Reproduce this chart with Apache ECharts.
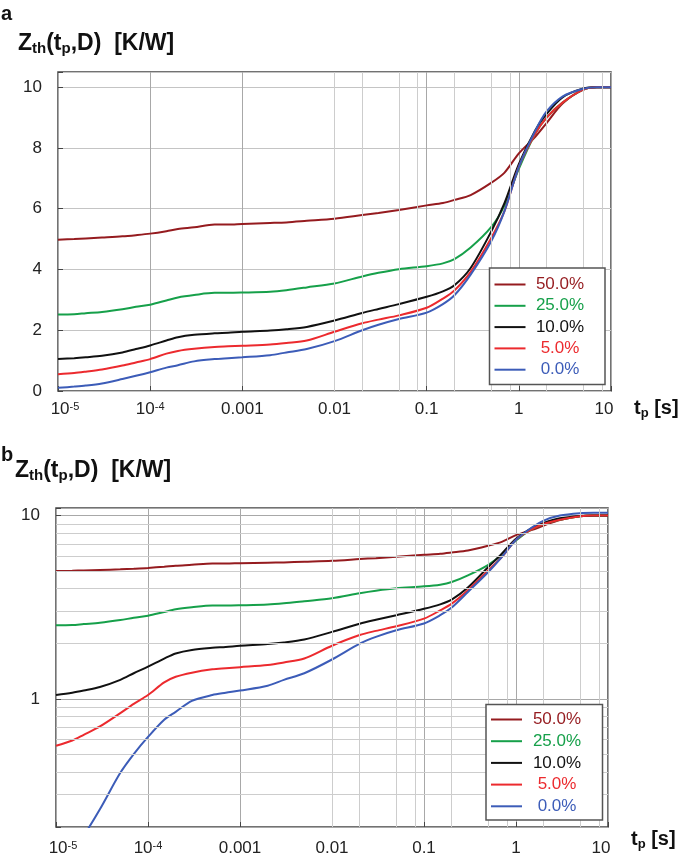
<!DOCTYPE html>
<html><head><meta charset="utf-8">
<script src="https://cdn.jsdelivr.net/npm/echarts@6/dist/echarts.min.js"></script>
<style>html,body{margin:0;padding:0;background:#fff}#c{width:685px;height:863px}</style>
</head><body><div id="c"></div>
<script>
// ---- data ----
const tValues = [1e-5,1.5e-5,2e-5,3e-5,5e-5,7e-5,1e-4,1.5e-4,2e-4,3e-4,5e-4,7e-4,1e-3,2e-3,3e-3,5e-3,1e-2,2e-2,3e-2,5e-2,0.1,0.15,0.2,0.3,0.5,0.7,1,1.5,2,3,5,7,10];
const dutyLabels = ['50.0%','25.0%','10.0%','5.0%','0.0%'];
const z50 = [4.98,5.0,5.02,5.05,5.09,5.13,5.18,5.26,5.33,5.39,5.48,5.48,5.5,5.53,5.55,5.6,5.67,5.79,5.86,5.96,6.11,6.19,6.29,6.45,6.85,7.19,7.82,8.36,8.82,9.47,9.92,10.0,10.0];
const z25 = [2.52,2.53,2.56,2.60,2.69,2.77,2.84,2.98,3.08,3.16,3.23,3.23,3.24,3.27,3.32,3.41,3.54,3.77,3.89,4.01,4.11,4.2,4.34,4.72,5.39,6.11,7.31,8.46,9.0,9.5,9.92,10.0,10.0];
const z10 = [1.05,1.08,1.11,1.16,1.27,1.38,1.5,1.66,1.77,1.85,1.9,1.92,1.95,1.99,2.03,2.11,2.32,2.57,2.7,2.86,3.1,3.28,3.48,4.05,5.24,6.19,7.47,8.57,9.12,9.67,9.96,10.0,10.0];
const z5  = [0.555,0.593,0.637,0.707,0.836,0.94,1.05,1.23,1.32,1.39,1.45,1.47,1.49,1.53,1.58,1.66,1.95,2.23,2.35,2.49,2.74,3.04,3.31,3.92,5.03,5.93,7.38,8.46,9.0,9.5,9.92,10.0,10.0];
const z0Lin = [0.105,0.145,0.179,0.25,0.395,0.50,0.62,0.77,0.85,0.975,1.05,1.08,1.11,1.18,1.27,1.38,1.64,2.0,2.18,2.37,2.58,2.86,3.15,3.83,4.92,5.93,7.38,8.55,9.2,9.7,9.95,10.0,10.0];
const z0Log = [0.105,0.145,0.179,0.25,0.395,0.50,0.62,0.77,0.85,0.975,1.05,1.08,1.11,1.18,1.27,1.38,1.64,2.0,2.18,2.37,2.58,2.86,3.15,3.83,4.92,5.93,7.38,8.64,9.39,10.0,10.3,10.35,10.35];
const xTickLabels = ['10^-5','10^-4','0.001','0.01','0.1','1','10'];
const yTickLabelsLin = ['0','2','4','6','8','10'];
const yTickLabelsLog = ['1','10'];
const xMinorTicks = [2e-5,5e-5,8e-5,2e-4,5e-4,8e-4,0.002,0.005,0.008,0.02,0.05,0.08,0.2,0.5,0.8,2,5,8];
const yMinorTicksLog = [0.3,0.4,0.5,0.6,0.7,0.8,0.9,2,3,4,5,6,7,8,9];

// ---- styling ----
const colors = ['#951b1f','#16a04a','#111111','#ec2a2e','#3c5cb8'];
const FONT = '"Liberation Sans", Arial, sans-serif';
const seriesA = [z50, z25, z10, z5, z0Lin];
const seriesB = [z50, z25, z10, z5, z0Log];

function xLabel(v) {
  const l = Math.log10(v);
  if (Math.abs(l - Math.round(l)) > 1e-6) return '';
  const idx = Math.round(l) + 5;
  const s = xTickLabels[idx];
  if (s === undefined) return '';
  const m = s.split('^');
  let out = m.length > 1 ? '{n|' + m[0] + '}{s|' + m[1] + '}' : '{n|' + s + '}';
  if (idx === 0) out = '{sp| }' + out;                       // first label sits right of its tick
  if (idx === xTickLabels.length - 1) out = out + '{sp| }';  // last label sits left of its tick
  return out;
}
function xAxisCfg(gi, margin) {
  return {
    type: 'log', logBase: 10, gridIndex: gi, min: 1e-5, max: 10,
    axisLine: {show: false},
    axisTick: {show: true, inside: true, length: 5, lineStyle: {color: '#444', width: 1}},
    splitLine: {show: true, lineStyle: {color: '#a8a8a8', width: 1}},
    axisLabel: {
      margin: margin, color: '#222', fontFamily: FONT, formatter: xLabel,
      rich: {
        n: {fontSize: 17, lineHeight: 17, padding: [3, 0, 0, 0], verticalAlign: 'bottom', fontFamily: FONT, color: '#222'},
        s: {fontSize: 11, lineHeight: 11, verticalAlign: 'top', fontFamily: FONT, color: '#222'},
        sp: {width: 14, fontSize: 11, lineHeight: 11}
      }
    }
  };
}
function lineSeries(gi, arr, i) {
  return {
    name: dutyLabels[i], type: 'line', xAxisIndex: gi, yAxisIndex: gi,
    data: tValues.map((t, k) => [t, arr[k]]),
    showSymbol: false, smooth: 0.3, z: 3,
    lineStyle: {color: colors[i], width: 2}, itemStyle: {color: colors[i]}
  };
}
function gridSeries(gi, xs, ys) {
  const data = xs.map(v => ({xAxis: v})).concat(ys.map(v => ({yAxis: v})));
  return {
    name: '_grid' + gi, type: 'line', xAxisIndex: gi, yAxisIndex: gi, data: [], z: 1,
    markLine: {silent: true, symbol: ['none', 'none'], label: {show: false}, animation: false,
      lineStyle: {color: '#cdcdcd', width: 1, type: 'solid'}, emphasis: {disabled: true}, data: data}
  };
}
// legend key box drawn as graphic elements
function legendBox(x, y, w, h, rowTop, rowStep, textCx) {
  const els = [{type: 'rect', z: 100, silent: true,
    shape: {x: x, y: y, width: w, height: h},
    style: {fill: '#fff', stroke: '#555', lineWidth: 1.5}}];
  dutyLabels.forEach((n, i) => {
    const cy = rowTop + i * rowStep;
    els.push({type: 'line', z: 101, silent: true,
      shape: {x1: x + 5, y1: cy, x2: x + 36, y2: cy},
      style: {stroke: colors[i], lineWidth: 2}});
    els.push({type: 'text', z: 101, silent: true, x: textCx, y: cy,
      style: {text: n, fill: colors[i], fontSize: 17, fontFamily: FONT, align: 'center', verticalAlign: 'middle'}});
  });
  return els;
}
function titleText(left, top, parts, big, small) {
  return {
    type: 'text', left: left, top: top, z: 100,
    style: {
      text: parts, fill: '#111',
      rich: {
        z: {fontSize: big, fontWeight: 'bold', fontFamily: FONT, lineHeight: big, padding: [0, 0, 1.5, 0], verticalAlign: 'bottom', fill: '#111'},
        s: {fontSize: small, fontWeight: 'bold', fontFamily: FONT, lineHeight: small, verticalAlign: 'bottom', fill: '#111'}
      }
    }
  };
}

const chart = echarts.init(document.getElementById('c'), null, {renderer: 'canvas'});
const option = {
  animation: false,
  backgroundColor: '#fff',
  grid: [
    {left: 58, top: 72, width: 553, height: 319, show: true, borderColor: '#444', borderWidth: 1.5, backgroundColor: 'transparent', outerBoundsMode: 'none', containLabel: false},
    {left: 56, top: 508, width: 552, height: 319, show: true, borderColor: '#444', borderWidth: 1.5, backgroundColor: 'transparent', outerBoundsMode: 'none', containLabel: false}
  ],
  xAxis: [xAxisCfg(0, 10), xAxisCfg(1, 13)],
  yAxis: [
    {type: 'value', gridIndex: 0, min: 0, max: 10.5, interval: 2,
      axisLine: {show: false},
      axisTick: {show: true, inside: true, length: 5, lineStyle: {color: '#444'}},
      splitLine: {show: true, lineStyle: {color: '#c4c4c4', width: 1}},
      axisLabel: {margin: 16, fontSize: 17, color: '#222', fontFamily: FONT,
        formatter: v => { const i = Math.round(v / 2); return (Math.abs(v - i * 2) < 1e-6 && yTickLabelsLin[i] !== undefined) ? yTickLabelsLin[i] : ''; }}},
    {type: 'log', logBase: 10, gridIndex: 1, min: 0.2, max: 11,
      axisLine: {show: false},
      axisTick: {show: true, inside: true, length: 5, lineStyle: {color: '#444'}},
      splitLine: {show: true, lineStyle: {color: '#a8a8a8', width: 1}},
      axisLabel: {margin: 16, fontSize: 17, color: '#222', fontFamily: FONT,
        formatter: v => { const l = Math.log10(v); const i = Math.round(l); return (Math.abs(l - i) < 1e-6 && yTickLabelsLog[i] !== undefined) ? yTickLabelsLog[i] : ''; }}}
  ],
  series: [gridSeries(0, xMinorTicks, []), gridSeries(1, xMinorTicks, yMinorTicksLog)]
    .concat(seriesA.map((a, i) => lineSeries(0, a, i)))
    .concat(seriesB.map((a, i) => lineSeries(1, a, i))),
  graphic: [
    {type: 'text', left: 1, top: 4, z: 100, style: {text: 'a', fontSize: 20, fontWeight: 'bold', fontFamily: FONT, fill: '#111'}},
    {type: 'text', left: 1, top: 445, z: 100, style: {text: 'b', fontSize: 20, fontWeight: 'bold', fontFamily: FONT, fill: '#111'}},
    titleText(18, 32, '{z|Z}{s|th}{z|(t}{s|p}{z|,D)  [K/W]}', 23, 15),
    titleText(15, 459, '{z|Z}{s|th}{z|(t}{s|p}{z|,D)  [K/W]}', 23, 15),
    titleText(634, 398, '{z|t}{s|p}{z| [s]}', 20, 13),
    titleText(631, 829, '{z|t}{s|p}{z| [s]}', 20, 13)
  ].concat(legendBox(489.5, 268, 115.5, 116.5, 284.5, 21.3, 560))
   .concat(legendBox(486, 704.5, 116.5, 115.5, 719.5, 21.7, 557))
};
chart.setOption(option);
</script>
</body></html>
